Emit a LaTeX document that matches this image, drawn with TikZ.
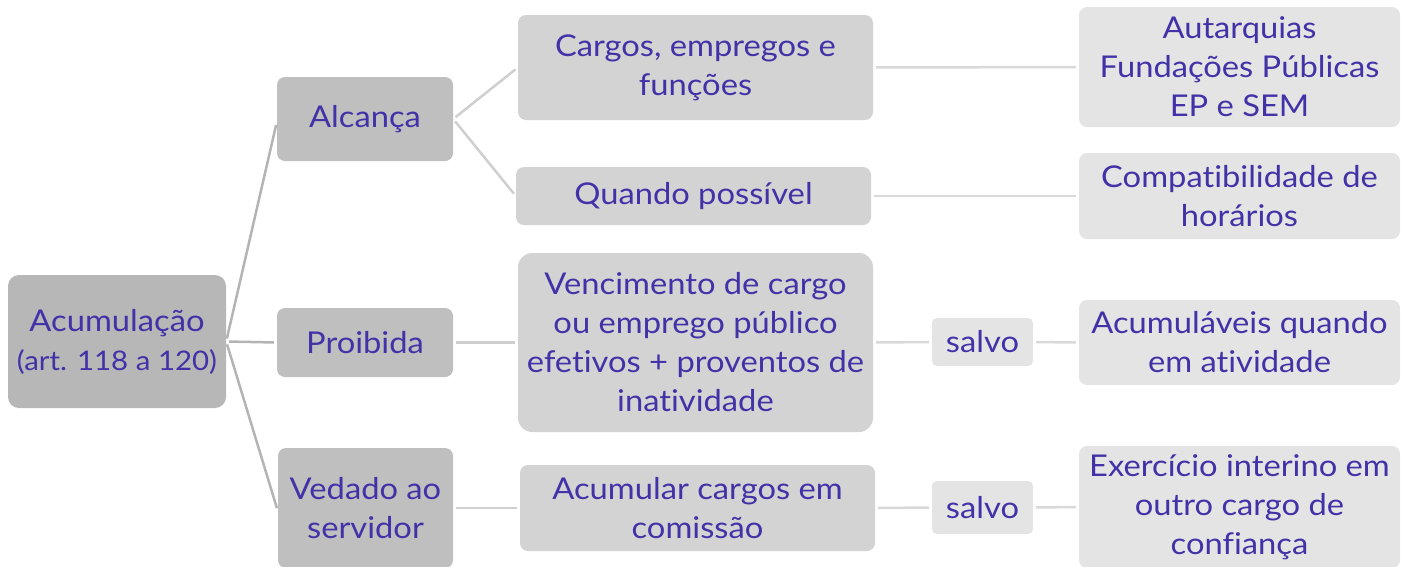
\documentclass[tikz,border=0pt]{standalone}
\usepackage{fontspec}
\setmainfont{Lato}[Ligatures=NoCommon, FakeStretch=1.09]
\definecolor{txt}{RGB}{66,50,168}
\definecolor{c0}{HTML}{B7B7B7}
\definecolor{c1}{HTML}{BFBFBF}
\definecolor{c2}{HTML}{D3D3D3}
\definecolor{c3}{HTML}{E4E4E4}
\definecolor{l1}{HTML}{B4B4B4}
\definecolor{l2}{HTML}{CFCFCF}
\definecolor{l3}{HTML}{D9D9D9}
\tikzset{
  box/.style={rectangle, rounded corners=8pt, inner sep=0pt, align=center,
    text=txt, font=\fontsize{30}{39}\selectfont},
  lvl0/.style={box, fill=c0, rounded corners=11pt},
  lvl1/.style={box, fill=c1},
  lvl2/.style={box, fill=c2},
  lvl3/.style={box, fill=c3},
  conn/.style={line width=2.5pt, shorten <=3pt, shorten >=3pt},
}
\begin{document}
\begin{tikzpicture}[x=1pt,y=-1pt]
\useasboundingbox (0,0) rectangle (1408,566);
\begin{scope}
\clip (0,0) rectangle (1408,566);
% root
\node[lvl0, minimum width=218pt, minimum height=133pt] (root) at (117,341.5) {Acumulação\\{\fontsize{27}{38}\selectfont (art. 118 a 120)}};
% level 1
\node[lvl1, minimum width=176pt, minimum height=84pt] (alc) at (365,119) {Alcança};
\node[lvl1, minimum width=176pt, minimum height=69pt] (pro) at (365,342.5) {Proibida};
\node[lvl1, minimum width=175pt, minimum height=120pt] (ved) at (365.5,508) {Vedado ao\\servidor};
% level 2
\node[lvl2, minimum width=355pt, minimum height=105pt] (car) at (695.5,67.5) {Cargos, empregos e\\funções};
\node[lvl2, minimum width=355pt, minimum height=58pt] (qua) at (693.5,196) {Quando possível};
\node[lvl2, minimum width=355pt, minimum height=179pt, rounded corners=14pt] (ven) at (695.5,342.5) {Vencimento de cargo\\ou emprego público\\efetivos + proventos de\\inatividade};
\node[lvl2, minimum width=355pt, minimum height=86pt] (acu) at (697.5,508) {Acumular cargos em\\comissão};
% level 3
\node[lvl3, minimum width=321pt, minimum height=120pt] (aut) at (1239.5,67) {Autarquias\\Fundações Públicas\\EP e SEM};
\node[lvl3, minimum width=321pt, minimum height=86pt] (com) at (1239.5,196) {Compatibilidade de\\horários};
\node[lvl3, minimum width=101pt, minimum height=48pt, rounded corners=5pt] (sa1) at (982.5,342) {salvo};
\node[lvl3, minimum width=321pt, minimum height=85pt] (acv) at (1239.5,342.5) {Acumuláveis quando\\em atividade};
\node[lvl3, minimum width=101pt, minimum height=53pt, rounded corners=5pt] (sa2) at (982.5,507.5) {salvo};
\node[lvl3, minimum width=321pt, minimum height=122pt] (exe) at (1239.5,507) {Exercício interino em\\outro cargo de\\confiança};
% connectors
\draw[conn, l1] (root.east) -- ([yshift=-3pt]alc.west);
\draw[conn, l1] (root.east) -- (pro.west);
\draw[conn, l1] (root.east) -- ([yshift=-3pt]ved.west);
\draw[conn, l2] (alc.east) -- (car.west);
\draw[conn, l2] (alc.east) -- (qua.west);
\draw[conn, l2] (pro.east) -- (ven.west);
\draw[conn, l2] (ved.east) -- (acu.west);
\draw[conn, l3] (car.east) -- (aut.west);
\draw[conn, l3] (qua.east) -- (com.west);
\draw[conn, l3] (ven.east) -- (sa1.west);
\draw[conn, l3] (sa1.east) -- (acv.west);
\draw[conn, l3] (acu.east) -- (sa2.west);
\draw[conn, l3] (sa2.east) -- (exe.west);
\end{scope}
\end{tikzpicture}
\end{document}
